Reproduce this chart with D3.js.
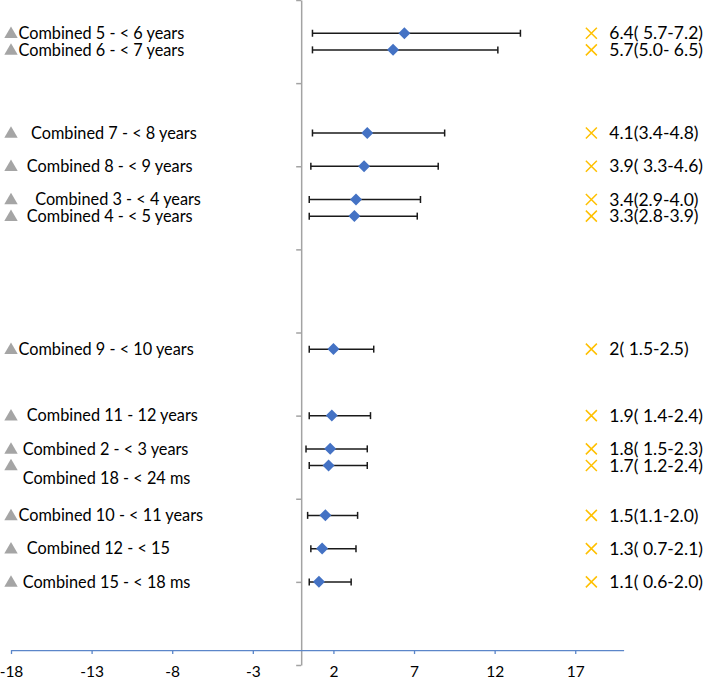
<!DOCTYPE html>
<html><head><meta charset="utf-8">
<script src="https://cdn.jsdelivr.net/npm/d3@7"></script>
<style>
html,body{margin:0;padding:0;background:#fff;}
svg text{font-family:Lato,"Open Sans",sans-serif;}
</style></head>
<body><svg id="c" width="708" height="677"></svg>
<script>
// ---- data ----
const categories = [
  "Combined 5 - < 6 years",
  "Combined 6 - < 7 years",
  "   Combined 7 - < 8 years",
  "  Combined 8 - < 9 years",
  "    Combined 3 - < 4 years",
  "  Combined 4 - < 5 years",
  "Combined 9 - < 10 years",
  "  Combined 11 - 12 years",
  " Combined 2 - < 3 years",
  "\n Combined 18 - < 24 ms",
  "Combined 10 - < 11 years",
  "  Combined 12 - < 15",
  " Combined 15 - < 18 ms"
];
const rowY   = [7.6, 7.4, 6.4, 6.0, 5.6, 5.4, 3.8, 3.0, 2.6, 2.4, 1.8, 1.4, 1.0];
const values = [6.4, 5.7, 4.1, 3.9, 3.4, 3.3, 2, 1.9, 1.8, 1.7, 1.5, 1.3, 1.1];
const lower  = [5.7, 5.0, 3.4, 3.3, 2.9, 2.8, 1.5, 1.4, 1.5, 1.2, 1.1, 0.7, 0.6];
const upper  = [7.2, 6.5, 4.8, 4.6, 4.0, 3.9, 2.5, 2.4, 2.3, 2.4, 2.0, 2.1, 2.0];
const ciLabels = [
  "6.4( 5.7-7.2)", "5.7(5.0- 6.5)", "4.1(3.4-4.8)", "3.9( 3.3-4.6)",
  "3.4(2.9-4.0)", "3.3(2.8-3.9)", "2( 1.5-2.5)", "1.9( 1.4-2.4)",
  "1.8( 1.5-2.3)", "1.7( 1.2-2.4)", "1.5(1.1-2.0)", "1.3( 0.7-2.1)", "1.1( 0.6-2.0)"
];
const xTicks = [-18, -13, -8, -3, 2, 7, 12, 17];
const yTicks = [0, 1, 2, 3, 4, 5, 6, 7, 8];
const labelX = -18;   // x value where the category markers sit
const ciX = 18;       // x value where the CI markers sit
const xAxisAtY = 0.18;

// ---- scales ----
const svg = d3.select("#c");
const x = d3.scaleLinear().domain([-18, 20]).range([11, 623.6]);
const y = d3.scaleLinear().domain([0, 8]).range([665, 0]);

const rows = categories.map((c, i) => ({
  cat: c, y: rowY[i], v: values[i], lo: values[i] - lower[i], hi: values[i] + upper[i], ci: ciLabels[i]
}));

// y axis (vertical, at x = 0)
const ya = svg.append("g").attr("transform", `translate(${x(0)},0)`)
  .call(d3.axisLeft(y).tickValues(yTicks).tickSize(5).tickSizeOuter(0).tickFormat(""));
ya.selectAll("path,line").attr("stroke", "#a3a3a3").attr("stroke-width", 1.5);

// x axis
const xa = svg.append("g").attr("transform", `translate(0,${y(xAxisAtY)})`)
  .call(d3.axisBottom(x).tickValues(xTicks).tickSize(4).tickSizeOuter(0).tickFormat(d => String(d)));
xa.selectAll("path,line").attr("stroke", "#5b86c9").attr("stroke-width", 1.3);
xa.selectAll("text").attr("fill", "#000").attr("font-size", 15.5).attr("dy", 0).attr("y", 27)
  .attr("font-family", "Lato");

// error bars
const eb = svg.append("g").attr("stroke", "#1a1a1a").attr("stroke-width", 1.5);
rows.forEach(r => {
  const yy = y(r.y);
  eb.append("line").attr("x1", x(r.lo)).attr("x2", x(r.hi)).attr("y1", yy).attr("y2", yy);
  eb.append("line").attr("x1", x(r.lo)).attr("x2", x(r.lo)).attr("y1", yy - 3.5).attr("y2", yy + 3.5);
  eb.append("line").attr("x1", x(r.hi)).attr("x2", x(r.hi)).attr("y1", yy - 3.5).attr("y2", yy + 3.5);
});

// diamonds
svg.append("g").selectAll("path").data(rows).join("path")
  .attr("d", d3.symbol().type(d3.symbolSquare).size(72))
  .attr("transform", d => `translate(${x(d.v)},${y(d.y)}) rotate(45)`)
  .attr("fill", "#4472c4");

// gray triangles + category labels
svg.append("g").selectAll("path").data(rows).join("path")
  .attr("d", d3.symbol().type(d3.symbolTriangle).size(78))
  .attr("transform", d => `translate(${x(labelX)},${y(d.y) + 1})`)
  .attr("fill", "#a5a5a5");

const lg = svg.append("g").attr("font-size", 16.3).attr("fill", "#000");
rows.forEach(r => {
  const lines = r.cat.split("\n");
  const lh = 25;
  const t = lg.append("text").attr("x", x(labelX) + 7.5).attr("y", y(r.y))
    .attr("xml:space", "preserve").style("white-space", "pre");
  lines.forEach((ln, k) => {
    t.append("tspan").attr("x", x(labelX) + 7.5)
      .attr("y", y(r.y) + (k - (lines.length - 1) / 2) * lh)
      .attr("dy", "0.35em").text(ln);
  });
});

// yellow crosses + CI labels
const cg = svg.append("g");
rows.forEach(r => {
  const cx = x(ciX), cy = y(r.y), s = 5.5;
  cg.append("path").attr("d", `M${cx - s},${cy - s}L${cx + s},${cy + s}M${cx - s},${cy + s}L${cx + s},${cy - s}`)
    .attr("stroke", "#ffc000").attr("stroke-width", 1.5).attr("fill", "none");
  cg.append("text").attr("x", cx + 18).attr("y", cy).attr("dy", "0.35em")
    .attr("font-size", 17.5).attr("fill", "#000").text(r.ci);
});
</script></body></html>
